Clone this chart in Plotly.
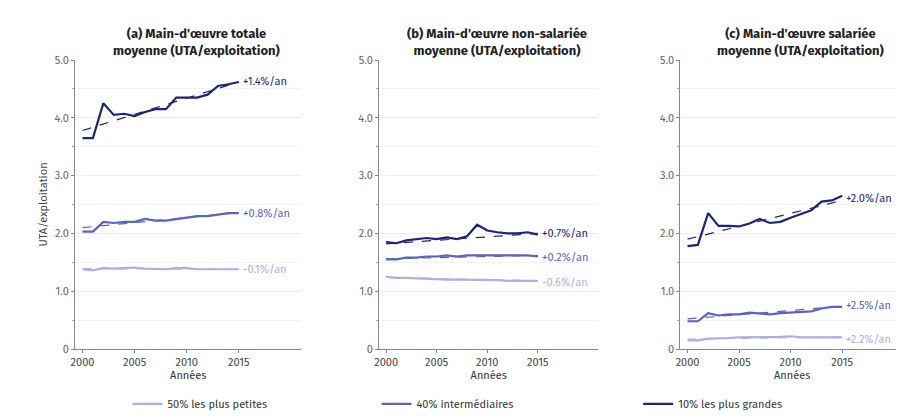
import plotly.graph_objects as go
from plotly.subplots import make_subplots

years = list(range(2000, 2016))

titles = [
    "<b>(a) Main-d'œuvre totale<br>moyenne (UTA/exploitation)</b>",
    "<b>(b) Main-d'œuvre non-salariée<br>moyenne (UTA/exploitation)</b>",
    "<b>(c) Main-d'œuvre salariée<br>moyenne (UTA/exploitation)</b>",
]
group_names = ["50% les plus petites", "40% intermédiaires", "10% les plus grandes"]
colors = ["#aab0e2", "#5a63bd", "#1c2577"]

# panel -> [small, mid, large]
series = [
    [
        [1.38, 1.36, 1.40, 1.39, 1.40, 1.41, 1.39, 1.38, 1.38, 1.40, 1.40, 1.38, 1.38, 1.37, 1.38, 1.38],
        [2.03, 2.03, 2.20, 2.18, 2.20, 2.20, 2.25, 2.22, 2.22, 2.25, 2.28, 2.30, 2.30, 2.33, 2.35, 2.35],
        [3.65, 3.65, 4.25, 4.05, 4.07, 4.03, 4.10, 4.15, 4.15, 4.35, 4.35, 4.35, 4.40, 4.55, 4.58, 4.62],
    ],
    [
        [1.25, 1.23, 1.23, 1.22, 1.22, 1.21, 1.20, 1.20, 1.20, 1.20, 1.19, 1.19, 1.18, 1.18, 1.18, 1.18],
        [1.55, 1.55, 1.58, 1.58, 1.60, 1.60, 1.62, 1.60, 1.62, 1.62, 1.63, 1.62, 1.62, 1.63, 1.62, 1.60],
        [1.85, 1.83, 1.88, 1.90, 1.92, 1.90, 1.93, 1.90, 1.95, 2.15, 2.05, 2.02, 2.00, 2.00, 2.02, 1.98],
    ],
    [
        [0.15, 0.15, 0.18, 0.18, 0.19, 0.20, 0.20, 0.20, 0.20, 0.21, 0.22, 0.20, 0.20, 0.20, 0.20, 0.20],
        [0.48, 0.48, 0.62, 0.58, 0.60, 0.60, 0.63, 0.62, 0.60, 0.62, 0.63, 0.65, 0.65, 0.70, 0.73, 0.73],
        [1.78, 1.80, 2.35, 2.13, 2.13, 2.12, 2.17, 2.25, 2.18, 2.20, 2.27, 2.33, 2.40, 2.55, 2.57, 2.65],
    ],
]
# trend line endpoints (2000, 2015)
trends = [
    [[1.39, 1.38], [2.10, 2.36], [3.78, 4.62]],
    [[1.24, 1.18], [1.56, 1.62], [1.82, 2.00]],
    [[0.17, 0.21], [0.52, 0.74], [1.90, 2.57]],
]
rates = [
    ["-0.1%/an", "+0.8%/an", "+1.4%/an"],
    ["-0.6%/an", "+0.2%/an", "+0.7%/an"],
    ["+2.2%/an", "+2.5%/an", "+2.0%/an"],
]
label_y = [
    [1.38, 2.35, 4.62],
    [1.15, 1.58, 2.0],
    [0.17, 0.75, 2.6],
]

legend_ids = ["legend", "legend2", "legend3"]
legend_x = [0.08, 0.375, 0.685]

fig = make_subplots(rows=1, cols=3, horizontal_spacing=0.085)

for p in range(3):
    for g in range(3):
        fig.add_trace(
            go.Scatter(
                x=[2000, 2015], y=trends[p][g], mode="lines",
                line=dict(color=colors[g], width=1.2, dash="dash"),
                showlegend=False, hoverinfo="skip",
            ),
            row=1, col=p + 1,
        )
        fig.add_trace(
            go.Scatter(
                x=years, y=series[p][g], mode="lines",
                line=dict(color=colors[g], width=2.2),
                name=group_names[g], showlegend=(p == 0),
                legend=legend_ids[g],
            ),
            row=1, col=p + 1,
        )
        fig.add_annotation(
            x=2015.2, y=label_y[p][g], text=rates[p][g], showarrow=False,
            xanchor="left", font=dict(color=colors[g], size=11),
            xref=f"x{p + 1 if p else ''}", yref=f"y{p + 1 if p else ''}",
        )

domains = [(0.018, 0.286), (0.378, 0.638), (0.735, 1.0)]
for p in range(3):
    fig.update_xaxes(
        range=[1999.3, 2021], tickvals=[2000, 2005, 2010, 2015], domain=domains[p],
        showline=True, linecolor="#888", ticks="outside", ticklen=3, tickcolor="#888",
        showgrid=False, title=dict(text="Années", font=dict(size=11), standoff=2),
        tickfont=dict(size=11, color="#444"),
        row=1, col=p + 1,
    )
    fig.update_yaxes(
        range=[0, 5.0], tickvals=[0, 1, 2, 3, 4, 5],
        ticktext=["0", "1.0", "2.0", "3.0", "4.0", "5.0"],
        showline=True, linecolor="#888", ticks="outside", ticklen=3, tickcolor="#888",
        gridcolor="#ececec", tickfont=dict(size=11, color="#666"),
        minor=dict(dtick=0.5, showgrid=True, gridcolor="#f2f2f2", ticks="outside", ticklen=2, tickcolor="#aaa"),
        zeroline=False,
        row=1, col=p + 1,
    )
    fig.add_annotation(
        x=(domains[p][0] + domains[p][1]) / 2 + 0.01, y=1.0, xref="paper", yref="paper",
        xanchor="center", yanchor="bottom", text=titles[p], showarrow=False,
        font=dict(size=13, color="#222"),
    )

fig.update_yaxes(title=dict(text="UTA/exploitation", font=dict(size=11, color="#444"), standoff=4), row=1, col=1)

legend_style = dict(orientation="h", y=-0.14, xanchor="left", yanchor="top", font=dict(size=11))
fig.update_layout(
    width=904, height=418,
    margin=dict(l=52, r=8, t=52, b=38),
    paper_bgcolor="white", plot_bgcolor="white",
    font=dict(family="Fira Sans, Open Sans, sans-serif", color="#333"),
    showlegend=True,
    legend=dict(x=legend_x[0], **legend_style),
    legend2=dict(x=legend_x[1], **legend_style),
    legend3=dict(x=legend_x[2], **legend_style),
)

fig.write_html("out.html")
